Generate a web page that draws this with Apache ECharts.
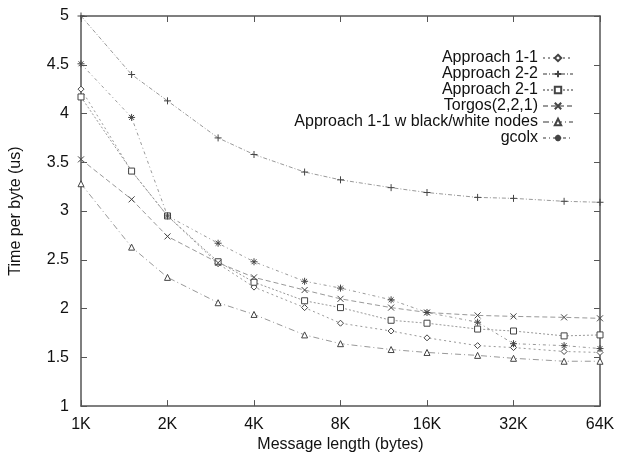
<!DOCTYPE html>
<html>
<head>
<meta charset="utf-8">
<script src="https://cdn.jsdelivr.net/npm/echarts@6/dist/echarts.min.js"></script>
<style>
  html, body { margin: 0; padding: 0; background: #fff; }
  #chart { width: 627px; height: 458px; }
</style>
</head>
<body>
<div id="chart"></div>
<script>
// message sizes in KB
var sizes = [1, 1.5, 2, 3, 4, 6, 8, 12, 16, 24, 32, 48, 64];

var approach11 = [4.25, 3.41, 2.95, 2.46, 2.22, 2.01, 1.85, 1.77, 1.70, 1.62, 1.60, 1.56, 1.55];
var approach22 = [5.00, 4.40, 4.13, 3.75, 3.58, 3.40, 3.32, 3.24, 3.19, 3.14, 3.13, 3.10, 3.09];
var approach21 = [4.17, 3.41, 2.95, 2.48, 2.27, 2.08, 2.01, 1.88, 1.85, 1.79, 1.77, 1.72, 1.73];
var torgos     = [3.53, 3.12, 2.74, 2.47, 2.32, 2.19, 2.10, 2.01, 1.96, 1.93, 1.92, 1.91, 1.90];
var blackWhite = [3.28, 2.63, 2.32, 2.06, 1.94, 1.73, 1.64, 1.58, 1.55, 1.52, 1.49, 1.46, 1.46];
var gcolx      = [4.51, 3.96, 2.95, 2.67, 2.48, 2.28, 2.21, 2.09, 1.96, 1.86, 1.64, 1.62, 1.59];

var PLUS = 'path://M5,0L5,10M0,5L10,5';
var CROSS = 'path://M0,0L10,10M10,0L0,10';
var STAR = 'path://M5,0L5,10M0,5L10,5M1.5,1.5L8.5,8.5M8.5,1.5L1.5,8.5';

function pairs(vals) {
    return sizes.map(function (s, i) { return [s, vals[i]]; });
}

function mkSeries(name, vals, symbol, size, dash) {
    return {
        name: name,
        type: 'line',
        data: pairs(vals),
        symbol: symbol,
        symbolSize: size,
        showSymbol: true,
        animation: false,
        lineStyle: { color: '#999', width: 1, type: dash },
        itemStyle: { color: '#fff', borderColor: '#444', borderWidth: 1 }
    };
}

var chart = echarts.init(document.getElementById('chart'));

var font = 'Liberation Sans, Arial, sans-serif';

chart.setOption({
    backgroundColor: '#fff',
    animation: false,
    textStyle: { fontFamily: font },
    grid: { left: 81, right: 27, top: 16, bottom: 43 },
    legend: {
        orient: 'vertical',
        align: 'right',
        right: 48,
        top: 45,
        itemWidth: 30,
        itemHeight: 8,
        itemGap: 0,
        textStyle: { fontFamily: font, fontSize: 16, lineHeight: 16, color: '#111' },
        data: ['Approach 1-1', 'Approach 2-2', 'Approach 2-1', 'Torgos(2,2,1)',
            'Approach 1-1 w black/white nodes', 'gcolx']
    },
    xAxis: [{
        type: 'log',
        logBase: 2,
        min: 1,
        max: 64,
        name: 'Message length (bytes)',
        nameLocation: 'middle',
        nameGap: 30,
        nameTextStyle: { fontSize: 16, color: '#111', fontFamily: font },
        axisLine: { lineStyle: { color: '#555', width: 1.5 } },
        axisTick: { inside: true, length: 6, lineStyle: { color: '#555' } },
        splitLine: { show: false },
        axisLabel: {
            fontSize: 16, color: '#111', margin: 10, fontFamily: font,
            formatter: function (v) { return Math.round(v) + 'K'; }
        }
    }, {
        type: 'log',
        logBase: 2,
        min: 1,
        max: 64,
        position: 'top',
        axisLine: { show: true, lineStyle: { color: '#555', width: 1.5 } },
        axisTick: { inside: true, length: 6, lineStyle: { color: '#555' } },
        axisLabel: { show: false },
        splitLine: { show: false }
    }],
    yAxis: [{
        type: 'value',
        min: 1,
        max: 5,
        interval: 0.5,
        name: 'Time per byte (us)',
        nameLocation: 'middle',
        nameGap: 57,
        nameTextStyle: { fontSize: 16, color: '#111', fontFamily: font },
        axisLine: { show: true, lineStyle: { color: '#555', width: 1.5 } },
        axisTick: { show: true, inside: true, length: 6, lineStyle: { color: '#555' } },
        splitLine: { show: false },
        axisLabel: {
            fontSize: 16, color: '#111', margin: 12, fontFamily: font,
            formatter: function (v) { return String(v); }
        }
    }, {
        type: 'value',
        min: 1,
        max: 5,
        interval: 0.5,
        position: 'right',
        axisLine: { show: true, lineStyle: { color: '#555', width: 1.5 } },
        axisTick: { show: true, inside: true, length: 6, lineStyle: { color: '#555' } },
        axisLabel: { show: false },
        splitLine: { show: false }
    }],
    series: [
        mkSeries('Approach 1-1', approach11, 'diamond', 6, [2, 3]),
        mkSeries('Approach 2-2', approach22, PLUS, 7, [4, 2, 1, 2]),
        mkSeries('Approach 2-1', approach21, 'rect', 6, [2, 2]),
        mkSeries('Torgos(2,2,1)', torgos, CROSS, 6, [5, 3]),
        mkSeries('Approach 1-1 w black/white nodes', blackWhite, 'triangle', 6, [6, 3, 1, 3]),
        mkSeries('gcolx', gcolx, STAR, 7, [3, 3, 1, 3])
    ]
});
</script>
</body>
</html>
